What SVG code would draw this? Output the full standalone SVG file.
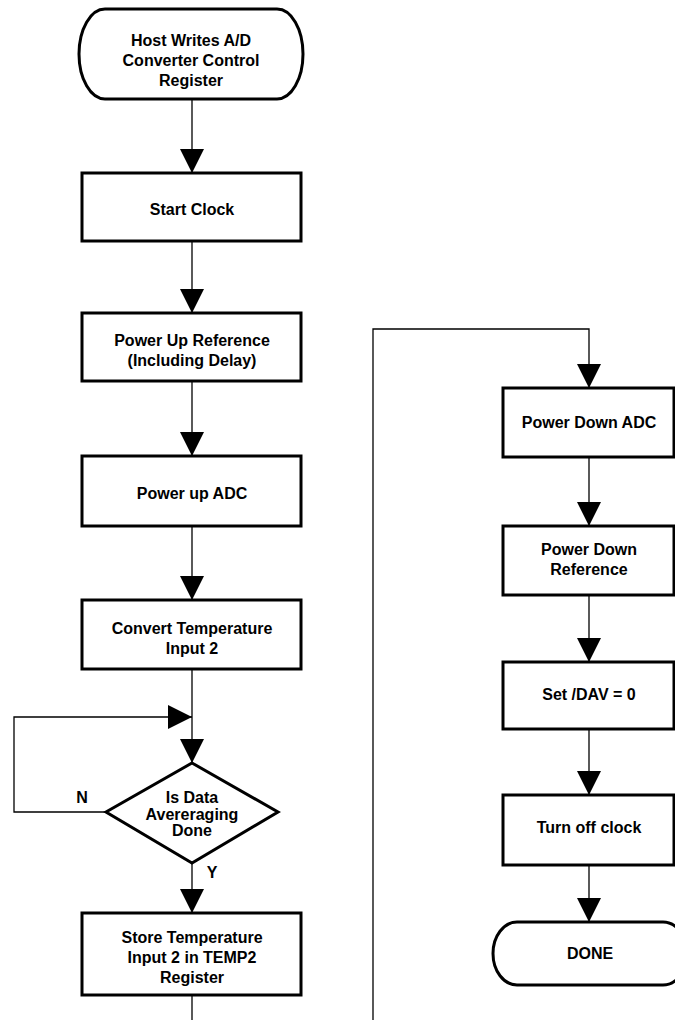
<svg xmlns="http://www.w3.org/2000/svg" width="675" height="1020" viewBox="0 0 675 1020">
<style>
.box{fill:#fff;stroke:#000;stroke-width:3}
.con{fill:none;stroke:#000;stroke-width:1.3}
text{font-family:"Liberation Sans",Arial,sans-serif;font-weight:bold;font-size:16px;fill:#000;text-anchor:middle}
</style>
<defs>
<marker id="ah" markerUnits="userSpaceOnUse" markerWidth="24" markerHeight="24" refX="24" refY="12" orient="auto" viewBox="0 0 24 24">
<path d="M0,0 L24,12 L0,24 Z" fill="#000"/>
</marker>
</defs>
<rect width="675" height="1020" fill="#fff"/>
<g id="connectors">
<path class="con" d="M192,99 V173" marker-end="url(#ah)"/>
<path class="con" d="M192,241 V313" marker-end="url(#ah)"/>
<path class="con" d="M192,381 V456" marker-end="url(#ah)"/>
<path class="con" d="M192,526 V600" marker-end="url(#ah)"/>
<path class="con" d="M192,669 V763" marker-end="url(#ah)"/>
<path class="con" d="M106,812 H14 V717 H192" marker-end="url(#ah)"/>
<path class="con" d="M192,863 V913" marker-end="url(#ah)"/>
<path class="con" d="M192,995 V1020"/>
<path class="con" d="M373,1020 V329 H589 V388" marker-end="url(#ah)"/>
<path class="con" d="M589,457 V526" marker-end="url(#ah)"/>
<path class="con" d="M589,595 V662" marker-end="url(#ah)"/>
<path class="con" d="M589,729 V795" marker-end="url(#ah)"/>
<path class="con" d="M589,865 V922" marker-end="url(#ah)"/>
</g>
<g id="n_host">
<rect class="box" x="79" y="9" width="224" height="90" rx="26" ry="45"/>
<text x="191" y="46">Host Writes A/D</text>
<text x="191" y="66">Converter Control</text>
<text x="191" y="86">Register</text>
</g>
<g id="n_startclock">
<rect class="box" x="82" y="173" width="219" height="68"/>
<text x="192" y="215">Start Clock</text>
</g>
<g id="n_powerupref">
<rect class="box" x="82" y="313" width="219" height="68"/>
<text x="192" y="346">Power Up Reference</text>
<text x="192" y="366">(Including Delay)</text>
</g>
<g id="n_powerupadc">
<rect class="box" x="82" y="456" width="219" height="70"/>
<text x="192" y="499">Power up ADC</text>
</g>
<g id="n_convert">
<rect class="box" x="82" y="600" width="219" height="69"/>
<text x="192" y="634">Convert Temperature</text>
<text x="192" y="654">Input 2</text>
</g>
<g id="n_decision">
<polygon class="box" points="192,763 278,812 192,863 106,812"/>
<text x="192" y="803">Is Data</text>
<text x="192" y="820">Avereraging</text>
<text x="192" y="836">Done</text>
<text x="82" y="803">N</text>
<text x="212" y="878">Y</text>
</g>
<g id="n_store">
<rect class="box" x="82" y="913" width="219" height="82"/>
<text x="192" y="943">Store Temperature</text>
<text x="192" y="963">Input 2 in TEMP2</text>
<text x="192" y="983">Register</text>
</g>
<g id="n_pdadc">
<rect class="box" x="503" y="388" width="171" height="69"/>
<text x="589" y="428">Power Down ADC</text>
</g>
<g id="n_pdref">
<rect class="box" x="503" y="526" width="171" height="69"/>
<text x="589" y="555">Power Down</text>
<text x="589" y="575">Reference</text>
</g>
<g id="n_setdav">
<rect class="box" x="503" y="662" width="171" height="67"/>
<text x="589" y="700">Set /DAV = 0</text>
</g>
<g id="n_clockoff">
<rect class="box" x="503" y="795" width="171" height="70"/>
<text x="589" y="833">Turn off clock</text>
</g>
<g id="n_done">
<rect class="box" x="493" y="922" width="194" height="63" rx="24" ry="31.5"/>
<text x="590" y="959">DONE</text>
</g>
</svg>
